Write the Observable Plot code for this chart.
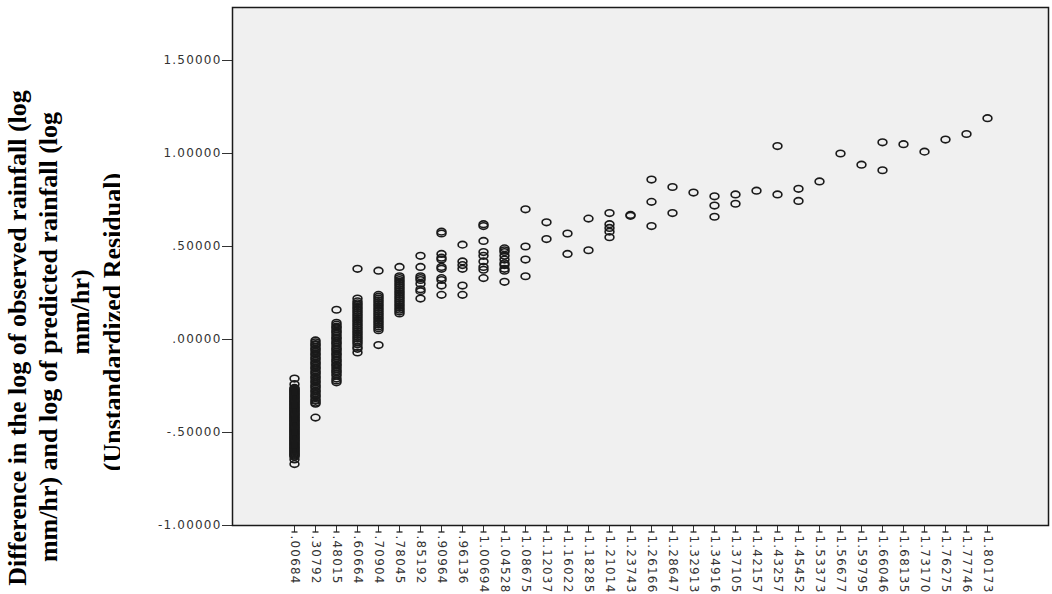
<!DOCTYPE html>
<html><head><meta charset="utf-8">
<script src="https://cdn.jsdelivr.net/npm/d3@7"></script>
<script src="https://cdn.jsdelivr.net/npm/@observablehq/plot@0.6"></script>
<style>
body{margin:0;background:#fff;}
#chart svg{display:block;}
g[aria-label="y-axis tick label"] text{letter-spacing:1.2px}
g[aria-label="x-axis tick label"] text{letter-spacing:1.2px}
</style></head><body><div id="chart"></div>
<script>
const categories = [".00684", ".30792", ".48015", ".60664", ".70904", ".78045", ".85192", ".90964", ".96136",
  "1.00694", "1.04528", "1.08675", "1.12037", "1.16022", "1.18285", "1.21014", "1.23743", "1.26166", "1.28647",
  "1.32913", "1.34916", "1.37105", "1.42157", "1.43257", "1.45452", "1.53373", "1.56677", "1.59795", "1.66046",
  "1.68135", "1.73170", "1.76275", "1.77746", "1.80173"];

const residuals = [
  [-0.21,-0.24,-0.26,-0.265,-0.27,-0.275,-0.28,-0.285,-0.29,-0.295,-0.30,-0.305,-0.31,-0.315,-0.32,-0.325,-0.33,-0.335,-0.34,-0.345,-0.35,-0.355,-0.36,-0.365,-0.37,-0.375,-0.38,-0.385,-0.39,-0.395,-0.40,-0.405,-0.41,-0.415,-0.42,-0.425,-0.43,-0.435,-0.44,-0.445,-0.45,-0.455,-0.46,-0.465,-0.47,-0.475,-0.48,-0.485,-0.49,-0.495,-0.50,-0.505,-0.51,-0.515,-0.52,-0.525,-0.53,-0.535,-0.54,-0.545,-0.55,-0.555,-0.56,-0.565,-0.57,-0.575,-0.58,-0.585,-0.59,-0.595,-0.60,-0.605,-0.61,-0.615,-0.62,-0.625,-0.63,-0.645,-0.67],
  [-0.005,-0.015,-0.025,-0.03,-0.04,-0.05,-0.055,-0.065,-0.075,-0.08,-0.09,-0.10,-0.105,-0.115,-0.125,-0.13,-0.14,-0.15,-0.155,-0.165,-0.175,-0.18,-0.19,-0.20,-0.205,-0.215,-0.225,-0.23,-0.24,-0.25,-0.255,-0.265,-0.275,-0.28,-0.29,-0.30,-0.305,-0.315,-0.325,-0.33,-0.34,-0.345,-0.42],
  [0.16,0.09,0.08,0.07,0.065,0.055,0.045,0.04,0.03,0.02,0.01,0.005,-0.005,-0.015,-0.02,-0.03,-0.04,-0.05,-0.055,-0.065,-0.075,-0.08,-0.09,-0.10,-0.11,-0.115,-0.125,-0.135,-0.14,-0.15,-0.16,-0.17,-0.175,-0.185,-0.195,-0.21,-0.22,-0.23],
  [0.38,0.22,0.205,0.195,0.185,0.175,0.165,0.155,0.145,0.135,0.125,0.115,0.105,0.095,0.085,0.075,0.065,0.055,0.045,0.035,0.025,0.015,0.005,-0.005,-0.015,-0.025,-0.04,-0.05,-0.07],
  [0.37,0.24,0.23,0.22,0.21,0.20,0.19,0.18,0.17,0.16,0.15,0.14,0.13,0.12,0.11,0.10,0.09,0.08,0.07,0.06,0.05,-0.03],
  [0.39,0.34,0.33,0.32,0.31,0.30,0.29,0.28,0.27,0.26,0.25,0.24,0.23,0.22,0.21,0.20,0.19,0.18,0.17,0.16,0.15,0.14],
  [0.45,0.39,0.34,0.33,0.32,0.30,0.27,0.26,0.22],
  [0.58,0.57,0.46,0.44,0.43,0.39,0.38,0.33,0.32,0.29,0.24],
  [0.51,0.42,0.40,0.38,0.29,0.24],
  [0.62,0.61,0.53,0.47,0.45,0.42,0.39,0.375,0.33],
  [0.49,0.48,0.47,0.45,0.43,0.41,0.40,0.38,0.37,0.31],
  [0.70,0.50,0.43,0.34],
  [0.63,0.54],
  [0.57,0.46],
  [0.65,0.48],
  [0.68,0.62,0.60,0.58,0.55],
  [0.67,0.665],
  [0.86,0.74,0.61],
  [0.82,0.68],
  [0.79],
  [0.77,0.72,0.66],
  [0.78,0.73],
  [0.80],
  [1.04,0.78],
  [0.81,0.745],
  [0.85],
  [1.00],
  [0.94],
  [1.06,0.91],
  [1.05],
  [1.01],
  [1.075],
  [1.105],
  [1.19]
];

const yTicks = [-1, -0.5, 0, 0.5, 1, 1.5];
const yTickLabels = ["-1.00000", "-.50000", ".00000", ".50000", "1.00000", "1.50000"];
const titleLines = [
  "Difference in the log of observed rainfall (log",
  "mm/hr) and log of predicted rainfall (log",
  "mm/hr)",
  "(Unstandardized Residual)"
];

const data = categories.flatMap((c, i) => residuals[i].map(v => ({cat: c, res: v})));

const K = 0.5523;
const ellipse = {
  draw(ctx) {
    const rx = 4.4, ry = 3.3;
    ctx.moveTo(rx, 0);
    ctx.bezierCurveTo(rx, ry*K, rx*K, ry, 0, ry);
    ctx.bezierCurveTo(-rx*K, ry, -rx, ry*K, -rx, 0);
    ctx.bezierCurveTo(-rx, -ry*K, -rx*K, -ry, 0, -ry);
    ctx.bezierCurveTo(rx*K, -ry, rx, -ry*K, rx, 0);
    ctx.closePath();
  }
};

const plot = Plot.plot({
  width: 1052, height: 594,
  marginLeft: 232, marginRight: 4, marginTop: 7, marginBottom: 69,
  style: {background: "#fff", fontFamily: "DejaVu Sans"},
  x: {type: "point", domain: categories, padding: 2.35},
  y: {domain: [-1, 1.785]},
  marks: [
    Plot.frame({fill: "#f0f0f0"}),
    Plot.axisY({ticks: yTicks, tickFormat: d => yTickLabels[yTicks.indexOf(d)], tickSize: 10, tickPadding: 1, fontSize: 12, color: "#333", label: null}),
    Plot.axisX({tickRotate: 90, textAnchor: "start", lineAnchor: "middle", tickSize: 7, tickPadding: 3, fontSize: 12, color: "#333", label: null}),
    Plot.dot(data, {x: "cat", y: "res", symbol: ellipse, r: 4, stroke: "#1a1a1a", strokeWidth: 1.6, fill: "none"}),
    Plot.frame({stroke: "#1a1a1a", strokeWidth: 1.5})
  ]
});
document.getElementById("chart").append(plot);

const svg = d3.select(plot);
const svgRect = plot.getBoundingClientRect();
plot.querySelectorAll('g[aria-label="x-axis tick"] path, g[aria-label="x-axis tick"] line').forEach(el => {
  const b = el.getBoundingClientRect();
  const cx = b.x + b.width / 2 - svgRect.x, by = b.bottom - svgRect.y;
  svg.append("line").attr("x1", cx - 3).attr("x2", cx + 3).attr("y1", by).attr("y2", by)
    .attr("stroke", "#222").attr("stroke-width", 1.3);
});

svg.append("defs").append("clipPath").attr("id", "tclip")
  .append("rect").attr("x", 0).attr("y", 0).attr("width", 120).attr("height", 594);
const tg = svg.append("g").attr("clip-path", "url(#tclip)")
  .style("font-family", "'Liberation Serif', 'Times New Roman', serif")
  .style("font-weight", "bold").style("font-size", "26px").style("fill", "#000")
  .attr("text-anchor", "middle");
const titleX = [17, 48, 80, 112];
const titleY = [338, 337, 312, 322];
titleLines.forEach((t, i) => {
  tg.append("text").attr("transform", `translate(${titleX[i]},${titleY[i]}) rotate(-90)`)
    .attr("dy", "0.35em").text(t);
});
</script></body></html>
